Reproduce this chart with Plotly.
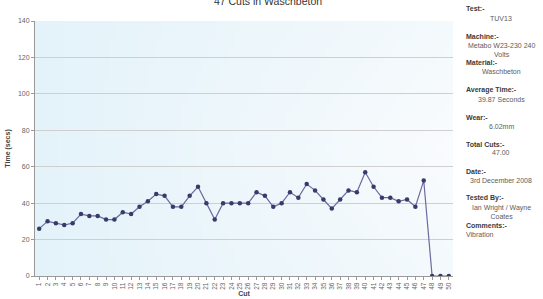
import base64
import struct
import zlib

import plotly.graph_objects as go

cuts = list(range(1, 51))
times = [26, 30, 29, 28, 29, 34, 33, 33, 31, 31,
         35, 34, 38, 41, 45, 44, 38, 38, 44, 49,
         40, 31, 40, 40, 40, 40, 46, 44, 38, 40,
         46, 43, 50.5, 47, 42, 37, 42, 47, 46, 57,
         49, 43, 43, 41, 42, 38, 52.4, 0, 0, 0]
y_ticks = [0, 20, 40, 60, 80, 100, 120, 140]

info_labels = ["Test:-", "Machine:-", "Material:-", "Average Time:-", "Wear:-",
               "Total Cuts:-", "Date:-", "Tested By:-", "Comments:-"]
info_values = ["TUV13", "Metabo W23-230 240<br>Volts", "Waschbeton", "39.87 Seconds",
               "6.02mm", "47.00", "3rd December 2008", "Ian Wright / Wayne<br>Coates",
               "Vibration"]

FONT = "Liberation Sans, Arial, sans-serif"
W, H = 543, 299
PL, PR, PT, PB = 35, 453, 21, 276


def gradient_png(w=64, h=32):
    rows = b""
    for j in range(h):
        rows += b"\x00"
        for i in range(w):
            fx = i / (w - 1)
            fy = j / (h - 1)
            t = min(1.0, 0.75 * fx + 0.25 * (1 - abs(fy - 0.5) * 2) * fx)
            r = int(228 + (250 - 228) * t)
            g = int(243 + (252 - 243) * t)
            b = int(250 + (254 - 250) * t)
            rows += bytes([r, g, b])

    def chunk(tag, data):
        c = struct.pack(">I", len(data)) + tag + data
        return c + struct.pack(">I", zlib.crc32(tag + data) & 0xFFFFFFFF)

    png = b"\x89PNG\r\n\x1a\n"
    png += chunk(b"IHDR", struct.pack(">IIBBBBB", w, h, 8, 2, 0, 0, 0))
    png += chunk(b"IDAT", zlib.compress(rows))
    png += chunk(b"IEND", b"")
    return "data:image/png;base64," + base64.b64encode(png).decode()


fig = go.Figure()
fig.add_trace(go.Scatter(
    x=cuts, y=times, mode="lines+markers",
    line=dict(color="#6b6b9e", width=1.2),
    marker=dict(color="#3a3a6a", size=4.5),
    hoverinfo="skip", showlegend=False,
))

line_h = 9.0
label_lines = [0, 3, 6, 9, 12, 15, 18, 21, 24]
value_lines = [1, 4.5, 7, 10, 13, 16, 19, 22.5, 25]
top_y = 9


def py(v):
    return (PB - v) / (PB - PT)


def px(v):
    return (v - PL) / (PR - PL)


anns = []
for lab, ln in zip(info_labels, label_lines):
    anns.append(dict(text="<b>" + lab + "</b>", xref="paper", yref="paper",
                     x=px(464), y=py(top_y + ln * line_h),
                     xanchor="left", yanchor="middle", showarrow=False,
                     font=dict(family=FONT, size=7, color="#3a3a3a")))
for i, (val, ln) in enumerate(zip(info_values, value_lines)):
    if i == len(info_values) - 1:
        xx, xa, al = px(464), "left", "left"
    else:
        xx, xa, al = px(501), "center", "center"
    anns.append(dict(text=val, xref="paper", yref="paper", x=xx, y=py(top_y + ln * line_h),
                     xanchor=xa, yanchor="middle", align=al, showarrow=False,
                     font=dict(family=FONT, size=7, color="#5c5c5c")))

fig.update_layout(
    width=W, height=H,
    margin=dict(l=PL, r=W - PR, t=PT, b=H - PB, autoexpand=False),
    paper_bgcolor="white",
    plot_bgcolor="#eef8fc",
    images=[dict(source=gradient_png(), xref="paper", yref="paper", x=0, y=1,
                 sizex=1, sizey=1, sizing="stretch", layer="below",
                 xanchor="left", yanchor="top")],
    title=dict(text="47 Cuts in Waschbeton", x=268 / W, xanchor="center",
               yref="container", y=1 - 1 / H, yanchor="middle",
               font=dict(family=FONT, size=10.5, color="#333333")),
    font=dict(family=FONT, size=7, color="#666666"),
    annotations=anns,
    xaxis=dict(
        range=[0.5, 50.5], tickmode="array", tickvals=cuts, ticktext=[str(c) for c in cuts],
        tickangle=-90, showgrid=False, zeroline=False, automargin=False,
        showline=True, linecolor="#999999", linewidth=1,
        ticks="outside", ticklen=3, tickcolor="#999999",
        tickfont=dict(size=6.5, color="#666666"),
        title=dict(text="<b>Cut</b>", standoff=2, font=dict(size=7, color="#444444")),
    ),
    yaxis=dict(
        range=[0, 140], tickvals=y_ticks, showgrid=True, gridcolor="#cfcfcf", gridwidth=1,
        zeroline=False, showline=True, linecolor="#999999", linewidth=1, automargin=False,
        ticks="outside", ticklen=3, tickcolor="#999999",
        tickfont=dict(size=7, color="#666666"),
        title=dict(text="<b>Time (secs)</b>", standoff=6, font=dict(size=7, color="#444444")),
    ),
)

fig.write_html(
    "out.html",
    config={"displayModeBar": False, "staticPlot": True},
    post_script="document.body.style.margin='0px';document.body.style.overflow='hidden';",
)
